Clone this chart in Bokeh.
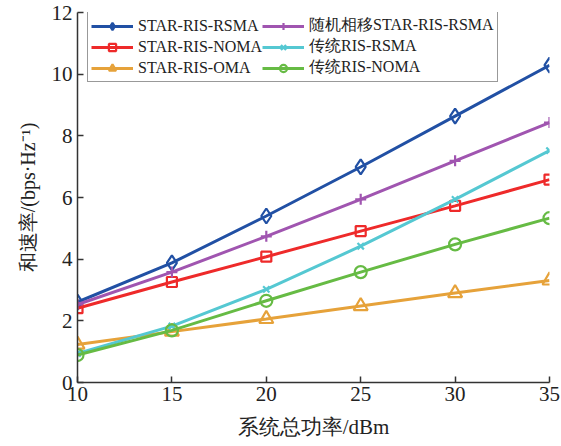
from bokeh.plotting import figure
from bokeh.models import Range1d, Legend, LegendItem, FixedTicker
from bokeh.embed import file_html
from bokeh.resources import INLINE

# Transmit power (dBm)
power_dbm = [10, 15, 20, 25, 30, 35]

# Sum rate (bps/Hz) for each scheme
star_ris_rsma = [2.61, 3.88, 5.40, 6.99, 8.64, 10.29]
star_ris_noma = [2.41, 3.26, 4.08, 4.91, 5.73, 6.58]
star_ris_oma = [1.23, 1.65, 2.06, 2.48, 2.90, 3.31]
random_phase_rsma = [2.53, 3.58, 4.74, 5.94, 7.19, 8.43]
conv_ris_rsma = [0.94, 1.83, 3.02, 4.42, 5.94, 7.52]
conv_ris_noma = [0.89, 1.69, 2.65, 3.58, 4.48, 5.33]

series_names = [
    "STAR-RIS-RSMA", "STAR-RIS-NOMA", "STAR-RIS-OMA",
    "随机相移STAR-RIS-RSMA", "传统RIS-RSMA", "传统RIS-NOMA",
]
x_ticks = [10, 15, 20, 25, 30, 35]
y_ticks = [0, 2, 4, 6, 8, 10, 12]

SERIF = "Liberation Serif"

p = figure(
    width=561, height=446,
    x_range=Range1d(10, 35), y_range=Range1d(0, 12),
    output_backend="svg", toolbar_location=None,
    min_border_left=77, min_border_right=12,
    min_border_top=12, min_border_bottom=64,
)
p.outline_line_color = None
p.xgrid.visible = False
p.ygrid.visible = False
p.background_fill_color = "white"
p.border_fill_color = "white"

for ax in (p.xaxis[0], p.yaxis[0]):
    ax.axis_line_color = "#333333"
    ax.axis_line_width = 1.5
    ax.major_tick_line_color = "#333333"
    ax.major_tick_line_width = 1.5
    ax.major_tick_in = 6
    ax.major_tick_out = 0
    ax.minor_tick_line_color = None
    ax.major_label_text_font = SERIF
    ax.major_label_text_font_size = "21px"
    ax.major_label_text_color = "#222222"
    ax.axis_label_text_font = SERIF
    ax.axis_label_text_font_style = "normal"
    ax.axis_label_text_color = "#222222"

p.xaxis.ticker = FixedTicker(ticks=x_ticks)
p.yaxis.ticker = FixedTicker(ticks=y_ticks)
p.xaxis.major_label_standoff = 4
p.yaxis.major_label_standoff = 5
p.xaxis.axis_label = "系统总功率/dBm"
p.yaxis.axis_label = "和速率/(bps·Hz⁻¹)"
p.xaxis.axis_label_text_font_size = "21px"
p.yaxis.axis_label_text_font_size = "20px"
p.xaxis.axis_label_standoff = 11
p.yaxis.axis_label_standoff = 10

styles = [
    (star_ris_rsma, "#2150a4", "diamond", 15),
    (star_ris_noma, "#ee2a2a", "square", 10),
    (star_ris_oma, "#e6a23a", "triangle", 14),
    (random_phase_rsma, "#a055b0", "cross", 11),
    (conv_ris_rsma, "#55c8d2", "x", 9),
    (conv_ris_noma, "#66bb44", "circle", 12),
]

items = []
for name, (ys, color, marker, size) in zip(series_names, styles):
    ln = p.line(power_dbm, ys, line_color=color, line_width=3)
    sc = p.scatter(power_dbm, ys, marker=marker, size=size,
                   line_color=color, line_width=2.2, fill_alpha=0)
    items.append(LegendItem(label=name, renderers=[ln, sc]))

legend = Legend(
    items=items, ncols=2, location=(10, 300),
    label_text_font=SERIF, label_text_font_size="16px",
    label_text_color="#222222",
    glyph_width=42, glyph_height=18, label_standoff=5,
    spacing=0, padding=3, margin=0,
    border_line_color="#333333", border_line_width=1.5,
    background_fill_alpha=1.0,
)
p.add_layout(legend, "center")

open("out.html", "w").write(file_html(p, INLINE))
